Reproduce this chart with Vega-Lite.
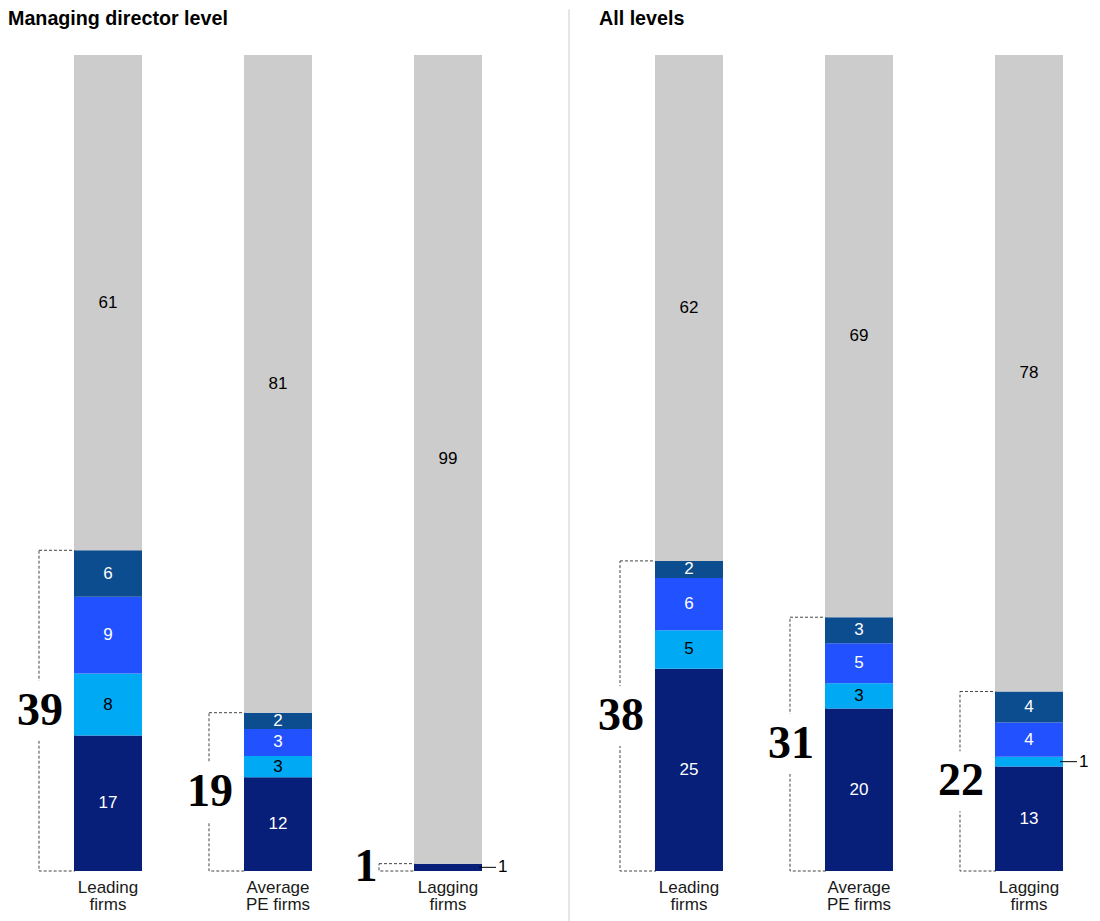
{
  "$schema": "https://vega.github.io/schema/vega-lite/v6.json",
  "background": "white",
  "padding": {"left": 8, "top": 8, "right": 0, "bottom": 0},
  "spacing": 28,
  "bounds": "flush",
  "config": {"view": {"stroke": null}, "font": "Liberation Sans"},
  "datasets": {
    "shares": [
      {"panel": "Managing director level", "firm": "Leading firms", "segment": "Group 1", "value": 16.6},
      {"panel": "Managing director level", "firm": "Leading firms", "segment": "Group 2", "value": 7.6},
      {"panel": "Managing director level", "firm": "Leading firms", "segment": "Group 3", "value": 9.4},
      {"panel": "Managing director level", "firm": "Leading firms", "segment": "Group 4", "value": 5.7},
      {"panel": "Managing director level", "firm": "Leading firms", "segment": "Other", "value": 60.7},
      {"panel": "Managing director level", "firm": "Average PE firms", "segment": "Group 1", "value": 11.5},
      {"panel": "Managing director level", "firm": "Average PE firms", "segment": "Group 2", "value": 2.6},
      {"panel": "Managing director level", "firm": "Average PE firms", "segment": "Group 3", "value": 3.3},
      {"panel": "Managing director level", "firm": "Average PE firms", "segment": "Group 4", "value": 2.0},
      {"panel": "Managing director level", "firm": "Average PE firms", "segment": "Other", "value": 80.6},
      {"panel": "Managing director level", "firm": "Lagging firms", "segment": "Group 1", "value": 0.9},
      {"panel": "Managing director level", "firm": "Lagging firms", "segment": "Group 2", "value": 0},
      {"panel": "Managing director level", "firm": "Lagging firms", "segment": "Group 3", "value": 0},
      {"panel": "Managing director level", "firm": "Lagging firms", "segment": "Group 4", "value": 0},
      {"panel": "Managing director level", "firm": "Lagging firms", "segment": "Other", "value": 99.1},
      {"panel": "All levels", "firm": "Leading firms", "segment": "Group 1", "value": 24.8},
      {"panel": "All levels", "firm": "Leading firms", "segment": "Group 2", "value": 4.7},
      {"panel": "All levels", "firm": "Leading firms", "segment": "Group 3", "value": 6.4},
      {"panel": "All levels", "firm": "Leading firms", "segment": "Group 4", "value": 2.1},
      {"panel": "All levels", "firm": "Leading firms", "segment": "Other", "value": 62.0},
      {"panel": "All levels", "firm": "Average PE firms", "segment": "Group 1", "value": 19.9},
      {"panel": "All levels", "firm": "Average PE firms", "segment": "Group 2", "value": 3.1},
      {"panel": "All levels", "firm": "Average PE firms", "segment": "Group 3", "value": 4.9},
      {"panel": "All levels", "firm": "Average PE firms", "segment": "Group 4", "value": 3.2},
      {"panel": "All levels", "firm": "Average PE firms", "segment": "Other", "value": 68.9},
      {"panel": "All levels", "firm": "Lagging firms", "segment": "Group 1", "value": 12.8},
      {"panel": "All levels", "firm": "Lagging firms", "segment": "Group 2", "value": 1.2},
      {"panel": "All levels", "firm": "Lagging firms", "segment": "Group 3", "value": 4.2},
      {"panel": "All levels", "firm": "Lagging firms", "segment": "Group 4", "value": 3.8},
      {"panel": "All levels", "firm": "Lagging firms", "segment": "Other", "value": 78.0}
    ],
    "divider": [{"id": 1}]
  },
  "hconcat": [
    {
      "width": 533,
      "height": 816,
      "data": {"name": "shares"},
      "title": {"text": "Managing director level", "anchor": "start", "frame": "group", "fontSize": 19.7, "fontWeight": "bold", "font": "Liberation Sans", "color": "#000000", "baseline": "alphabetic", "offset": 10},
      "transform": [{"filter": "datum.panel == 'Managing director level'"}],
      "encoding": {
        "x": {
          "field": "firm", "type": "nominal",
          "sort": ["Leading firms", "Average PE firms", "Lagging firms"],
          "scale": {"paddingInner": 0.6, "paddingOuter": 0.3676, "align": 0.528},
          "axis": {"title": null, "domain": false, "ticks": false, "labelPadding": 8, "labelFontSize": 17, "labelFont": "Liberation Sans", "labelColor": "#1a1a1a", "labelAngle": 0, "labelLineHeight": 17, "labelExpr": "datum.value == 'Average PE firms' ? ['Average', 'PE firms'] : split(datum.value, ' ')"}
        }
      },
      "layer": [
        {
          "transform": [
            {"filter": "datum.segment != 'Other'"},
            {"aggregate": [{"op": "sum", "field": "value", "as": "total"}], "groupby": ["firm"]}
          ],
          "mark": {"type": "bar", "width": 36, "xOffset": -51, "fill": "white", "fillOpacity": 0, "stroke": "#444444", "strokeWidth": 1, "strokeDash": [3, 2]},
          "encoding": {"y": {"field": "total", "type": "quantitative", "scale": {"domain": [0, 100], "nice": false}, "axis": null}}
        },
        {
          "mark": {"type": "bar"},
          "encoding": {
            "y": {"field": "value", "type": "quantitative", "stack": "zero", "scale": {"domain": [0, 100], "nice": false}, "axis": null},
            "color": {"field": "segment", "type": "nominal", "scale": {"domain": ["Group 1", "Group 2", "Group 3", "Group 4", "Other"], "range": ["#071f78", "#00a9f4", "#2251ff", "#0b4d8f", "#cccccc"]}, "legend": null},
            "order": {"field": "segment", "sort": "ascending"}
          }
        },
        {
          "transform": [
            {"filter": "datum.segment != 'Other'"},
            {"aggregate": [{"op": "sum", "field": "value", "as": "total"}], "groupby": ["firm"]},
            {"filter": "datum.total >= 5"}
          ],
          "mark": {"type": "square", "size": 3600, "color": "white", "opacity": 1, "filled": true, "xOffset": -68},
          "encoding": {"y": {"field": "total", "type": "quantitative", "scale": {"domain": [0, 200], "nice": false}, "axis": null}}
        },
        {
          "transform": [
            {"filter": "datum.segment != 'Other'"},
            {"aggregate": [{"op": "sum", "field": "value", "as": "total"}], "groupby": ["firm"]},
            {"filter": "datum.total >= 5"}
          ],
          "mark": {"type": "text", "font": "Liberation Serif", "fontWeight": "bold", "fontSize": 46, "align": "center", "baseline": "middle", "color": "#000000", "xOffset": -68},
          "encoding": {
            "y": {"field": "total", "type": "quantitative", "scale": {"domain": [0, 200], "nice": false}, "axis": null},
            "text": {"field": "total", "type": "quantitative", "format": ".0f"}
          }
        },
        {
          "transform": [
            {"filter": "datum.segment != 'Other'"},
            {"aggregate": [{"op": "sum", "field": "value", "as": "total"}], "groupby": ["firm"]},
            {"filter": "datum.total < 5"}
          ],
          "mark": {"type": "text", "font": "Liberation Serif", "fontWeight": "bold", "fontSize": 46, "align": "center", "baseline": "middle", "color": "#000000", "xOffset": -82},
          "encoding": {
            "y": {"field": "total", "type": "quantitative", "scale": {"domain": [0, 200], "nice": false}, "axis": null},
            "text": {"field": "total", "type": "quantitative", "format": ".0f"}
          }
        },
        {
          "mark": {"type": "text", "fontSize": 17, "align": "center", "baseline": "middle"},
          "encoding": {
            "y": {"field": "value", "type": "quantitative", "stack": "zero", "bandPosition": 0.5, "scale": {"domain": [0, 100], "nice": false}, "axis": null},
            "detail": {"field": "segment", "type": "nominal"},
            "order": {"field": "segment", "sort": "ascending"},
            "text": {"condition": {"test": "datum.value < 1.5", "value": ""}, "field": "value", "type": "quantitative", "format": ".0f"},
            "color": {"condition": {"test": "datum.segment == 'Group 2' || datum.segment == 'Other'", "value": "#000000"}, "value": "#ffffff"}
          }
        },
        {
          "mark": {"type": "tick", "orient": "horizontal", "size": 17, "thickness": 1, "color": "#000000", "xOffset": 39.5},
          "encoding": {
            "y": {"field": "value", "type": "quantitative", "stack": "zero", "bandPosition": 0.5, "scale": {"domain": [0, 100], "nice": false}, "axis": null},
            "detail": {"field": "segment", "type": "nominal"},
            "order": {"field": "segment", "sort": "ascending"},
            "opacity": {"condition": {"test": "datum.value > 0 && datum.value < 1.5", "value": 1}, "value": 0}
          }
        },
        {
          "mark": {"type": "text", "fontSize": 17, "align": "left", "baseline": "middle", "color": "#000000", "xOffset": 50},
          "encoding": {
            "y": {"field": "value", "type": "quantitative", "stack": "zero", "bandPosition": 0.5, "scale": {"domain": [0, 100], "nice": false}, "axis": null},
            "detail": {"field": "segment", "type": "nominal"},
            "order": {"field": "segment", "sort": "ascending"},
            "text": {"condition": {"test": "datum.value <= 0 || datum.value >= 1.5", "value": ""}, "field": "value", "type": "quantitative", "format": ".0f"}
          }
        }
      ],
      "resolve": {"scale": {"y": "independent"}}
    },
    {
      "width": 2,
      "height": 816,
      "data": {"name": "divider"},
      "mark": {"type": "rule", "color": "#dddddd", "strokeWidth": 1.5},
      "encoding": {
        "x": {"datum": 0, "type": "quantitative", "scale": {"domain": [0, 2]}, "axis": null},
        "y": {"datum": 105.6, "type": "quantitative", "scale": {"domain": [0, 100], "nice": false}, "axis": null},
        "y2": {"datum": -6.3}
      }
    },
    {
      "width": 481,
      "height": 816,
      "data": {"name": "shares"},
      "title": {"text": "All levels", "anchor": "start", "frame": "group", "fontSize": 19.7, "fontWeight": "bold", "font": "Liberation Sans", "color": "#000000", "baseline": "alphabetic", "offset": 10},
      "transform": [{"filter": "datum.panel == 'All levels'"}],
      "encoding": {
        "x": {
          "field": "firm", "type": "nominal",
          "sort": ["Leading firms", "Average PE firms", "Lagging firms"],
          "scale": {"paddingInner": 0.6, "paddingOuter": 0.2147, "align": 0.767},
          "axis": {"title": null, "domain": false, "ticks": false, "labelPadding": 8, "labelFontSize": 17, "labelFont": "Liberation Sans", "labelColor": "#1a1a1a", "labelAngle": 0, "labelLineHeight": 17, "labelExpr": "datum.value == 'Average PE firms' ? ['Average', 'PE firms'] : split(datum.value, ' ')"}
        }
      },
      "layer": [
        {
          "transform": [
            {"filter": "datum.segment != 'Other'"},
            {"aggregate": [{"op": "sum", "field": "value", "as": "total"}], "groupby": ["firm"]}
          ],
          "mark": {"type": "bar", "width": 36, "xOffset": -51, "fill": "white", "fillOpacity": 0, "stroke": "#444444", "strokeWidth": 1, "strokeDash": [3, 2]},
          "encoding": {"y": {"field": "total", "type": "quantitative", "scale": {"domain": [0, 100], "nice": false}, "axis": null}}
        },
        {
          "mark": {"type": "bar"},
          "encoding": {
            "y": {"field": "value", "type": "quantitative", "stack": "zero", "scale": {"domain": [0, 100], "nice": false}, "axis": null},
            "color": {"field": "segment", "type": "nominal", "scale": {"domain": ["Group 1", "Group 2", "Group 3", "Group 4", "Other"], "range": ["#071f78", "#00a9f4", "#2251ff", "#0b4d8f", "#cccccc"]}, "legend": null},
            "order": {"field": "segment", "sort": "ascending"}
          }
        },
        {
          "transform": [
            {"filter": "datum.segment != 'Other'"},
            {"aggregate": [{"op": "sum", "field": "value", "as": "total"}], "groupby": ["firm"]},
            {"filter": "datum.total >= 5"}
          ],
          "mark": {"type": "square", "size": 3600, "color": "white", "opacity": 1, "filled": true, "xOffset": -68},
          "encoding": {"y": {"field": "total", "type": "quantitative", "scale": {"domain": [0, 200], "nice": false}, "axis": null}}
        },
        {
          "transform": [
            {"filter": "datum.segment != 'Other'"},
            {"aggregate": [{"op": "sum", "field": "value", "as": "total"}], "groupby": ["firm"]},
            {"filter": "datum.total >= 5"}
          ],
          "mark": {"type": "text", "font": "Liberation Serif", "fontWeight": "bold", "fontSize": 46, "align": "center", "baseline": "middle", "color": "#000000", "xOffset": -68},
          "encoding": {
            "y": {"field": "total", "type": "quantitative", "scale": {"domain": [0, 200], "nice": false}, "axis": null},
            "text": {"field": "total", "type": "quantitative", "format": ".0f"}
          }
        },
        {
          "mark": {"type": "text", "fontSize": 17, "align": "center", "baseline": "middle"},
          "encoding": {
            "y": {"field": "value", "type": "quantitative", "stack": "zero", "bandPosition": 0.5, "scale": {"domain": [0, 100], "nice": false}, "axis": null},
            "detail": {"field": "segment", "type": "nominal"},
            "order": {"field": "segment", "sort": "ascending"},
            "text": {"condition": {"test": "datum.value < 1.5", "value": ""}, "field": "value", "type": "quantitative", "format": ".0f"},
            "color": {"condition": {"test": "datum.segment == 'Group 2' || datum.segment == 'Other'", "value": "#000000"}, "value": "#ffffff"}
          }
        },
        {
          "mark": {"type": "tick", "orient": "horizontal", "size": 17, "thickness": 1, "color": "#000000", "xOffset": 39.5},
          "encoding": {
            "y": {"field": "value", "type": "quantitative", "stack": "zero", "bandPosition": 0.5, "scale": {"domain": [0, 100], "nice": false}, "axis": null},
            "detail": {"field": "segment", "type": "nominal"},
            "order": {"field": "segment", "sort": "ascending"},
            "opacity": {"condition": {"test": "datum.value > 0 && datum.value < 1.5", "value": 1}, "value": 0}
          }
        },
        {
          "mark": {"type": "text", "fontSize": 17, "align": "left", "baseline": "middle", "color": "#000000", "xOffset": 50},
          "encoding": {
            "y": {"field": "value", "type": "quantitative", "stack": "zero", "bandPosition": 0.5, "scale": {"domain": [0, 100], "nice": false}, "axis": null},
            "detail": {"field": "segment", "type": "nominal"},
            "order": {"field": "segment", "sort": "ascending"},
            "text": {"condition": {"test": "datum.value <= 0 || datum.value >= 1.5", "value": ""}, "field": "value", "type": "quantitative", "format": ".0f"}
          }
        }
      ],
      "resolve": {"scale": {"y": "independent"}}
    }
  ]
}
